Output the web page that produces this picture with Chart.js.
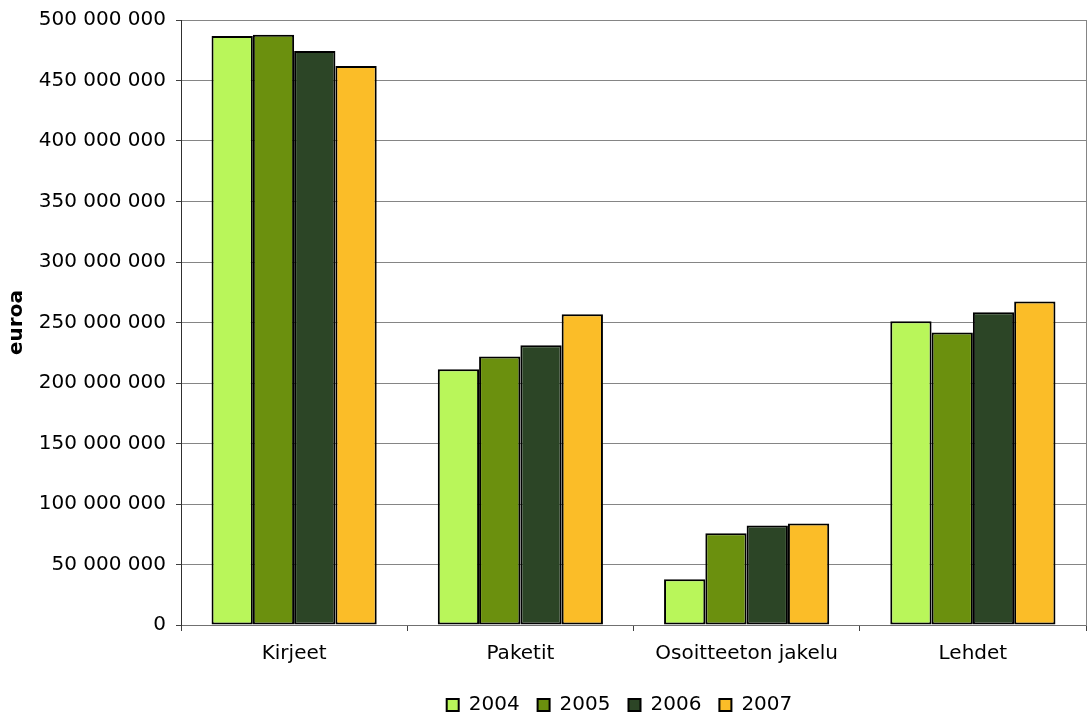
<!DOCTYPE html>
<html>
<head>
<meta charset="utf-8">
<script src="https://cdn.jsdelivr.net/npm/chart.js@4/dist/chart.umd.min.js"></script>
<style>
  html, body { margin: 0; padding: 0; background: #fff; }
  #wrap { width: 1087px; height: 715px; }
</style>
</head>
<body>
<div id="wrap"><canvas id="c" width="1087" height="715"></canvas></div>
<script>
// Postin liikevaihto palveluittain, euroa
const categories = ['Kirjeet', 'Paketit', 'Osoitteeton jakelu', 'Lehdet'];
const years = ['2004', '2005', '2006', '2007'];
const values2004 = [486800000, 211300000, 37800000, 251100000];
const values2005 = [487800000, 222000000, 75900000, 241700000];
const values2006 = [474300000, 231200000, 82200000, 258500000];
const values2007 = [462000000, 256900000, 83900000, 267400000];
const yTicks = [0, 50000000, 100000000, 150000000, 200000000, 250000000,
                300000000, 350000000, 400000000, 450000000, 500000000];

const colors = ['#B9F65A', '#6B900E', '#2C4526', '#FBBD28'];
const series = [values2004, values2005, values2006, values2007];

const FONT = 'DejaVu Sans';
const FS = 20;
Chart.defaults.font.family = FONT;
Chart.defaults.font.size = FS;
Chart.defaults.color = '#000';

const fmt = v => String(v).replace(/\B(?=(\d{3})+(?!\d))/g, ' ');

// nudges the legend row a little left of the plot-area centre
const legendNudge = {
  id: 'legendNudge',
  afterLayout(chart) {
    const lg = chart.legend;
    if (lg) { lg.left -= 14; lg.right -= 14; }
  }
};

new Chart(document.getElementById('c'), {
  type: 'bar',
  data: {
    labels: categories,
    datasets: years.map((y, i) => ({
      label: y,
      data: series[i],
      backgroundColor: colors[i],
      borderColor: '#000',
      borderWidth: 2,
      borderSkipped: false,
      barPercentage: 1.0,
      categoryPercentage: 0.73
    }))
  },
  plugins: [legendNudge],
  options: {
    responsive: false,
    animation: false,
    devicePixelRatio: 1,
    layout: { padding: { top: 20, right: 1, left: 0, bottom: -10 } },
    plugins: {
      legend: {
        position: 'bottom',
        fullSize: false,
        labels: {
          boxWidth: 12,
          boxHeight: 12,
          padding: 18,
          font: { size: FS, family: FONT },
          color: '#000'
        }
      },
      tooltip: { enabled: false }
    },
    scales: {
      x: {
        grid: {
          display: true,
          drawOnChartArea: false,
          drawTicks: true,
          tickLength: 6,
          tickColor: '#404040',
          offset: true
        },
        border: { display: true, color: '#707070', width: 1 },
        ticks: { padding: 11, font: { size: FS, family: FONT }, color: '#000' },
        afterFit: s => { s.height = 52; }
      },
      y: {
        min: 0,
        max: 500000000,
        afterBuildTicks: s => { s.ticks = yTicks.map(v => ({ value: v })); },
        grid: {
          color: '#858585',
          lineWidth: 1,
          tickLength: 5,
          tickColor: '#404040'
        },
        border: { display: true, color: '#303030', width: 1 },
        ticks: {
          padding: 10,
          font: { size: FS, family: FONT, lineHeight: 1.0 },
          color: '#000',
          callback: v => fmt(v)
        },
        title: {
          display: true,
          text: 'euroa',
          font: { size: FS, family: FONT, weight: 'bold' },
          color: '#000',
          padding: { top: 5, bottom: 0 }
        },
        afterFit: s => { s.width = 181; }
      },
      yRight: {
        position: 'right',
        min: 0,
        max: 500000000,
        grid: { display: false, drawTicks: false },
        ticks: { display: false },
        border: { display: true, color: '#858585', width: 1 },
        afterFit: s => { s.width = 0; }
      }
    }
  }
});
</script>
</body>
</html>
